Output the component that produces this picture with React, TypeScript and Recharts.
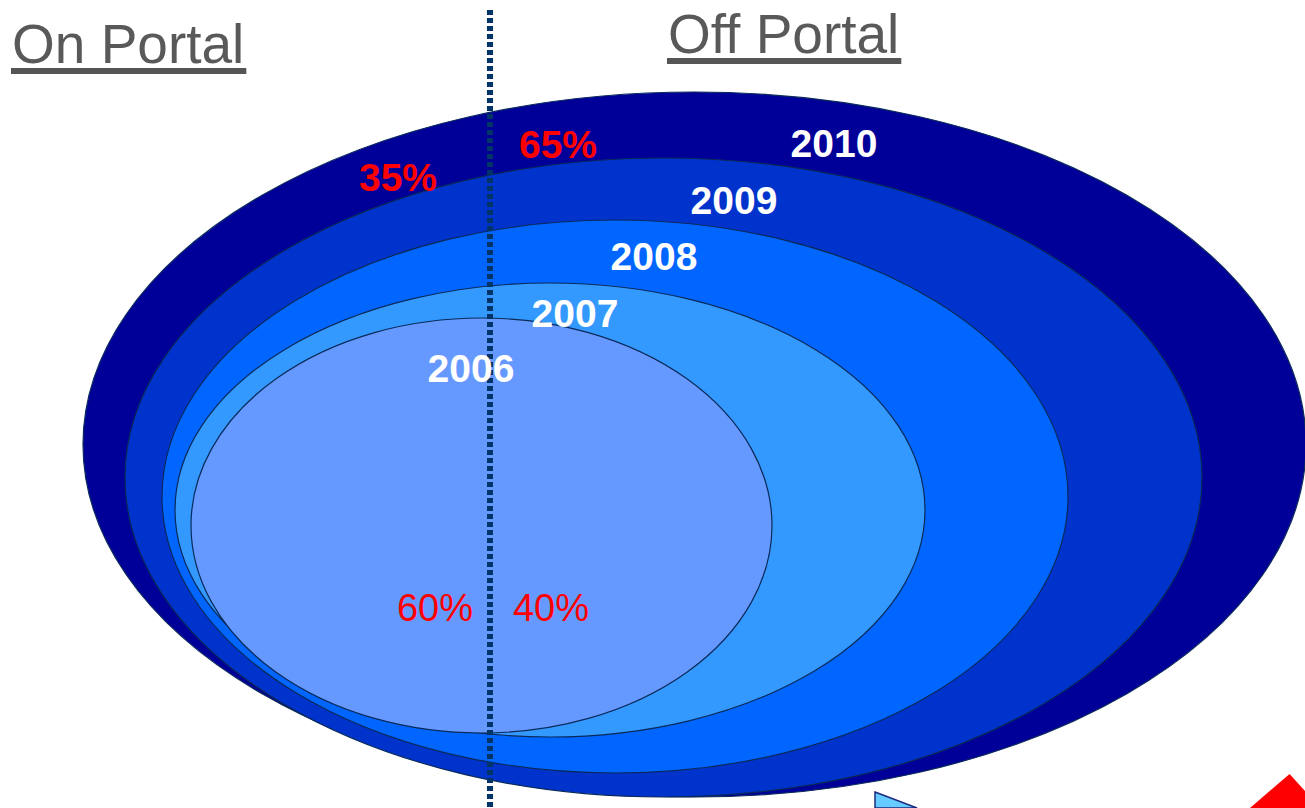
import React, { useLayoutEffect, useRef, useState } from "react";
import {
  ScatterChart,
  Scatter,
  XAxis,
  YAxis,
  ReferenceArea,
  ReferenceLine,
} from "recharts";

const W = 1305;
const H = 808;

// rings, outermost first
const YEARS = ["2010", "2009", "2008", "2007", "2006"];
const RING_LEFT = [83, 125, 162, 175, 191];
const RING_RIGHT = [1306, 1202, 1068, 925, 772];
const RING_TOP = [92, 158, 220, 283, 318];
const RING_BOTTOM = [797, 797, 773, 737, 733];
const RING_COLORS = ["#000099", "#0033CC", "#0066FF", "#3399FF", "#6699FF"];

const YEAR_X = [834, 734, 654, 575, 471];
const YEAR_Y = [157, 214, 270, 327, 382];

const OUTER_SHARE = ["35%", "65%"];
const OUTER_SHARE_X = [398, 558];
const OUTER_SHARE_Y = [191, 158];

const INNER_SHARE = ["60%", "40%"];
const INNER_SHARE_X = [435, 551];
const INNER_SHARE_Y = [621, 621];

const TITLES = ["On Portal", "Off Portal"];
const TITLE_X = [12, 668];
const TITLE_Y = [63, 53];

const DIVIDER_X = 490;

const FONT = "'Liberation Sans', Arial, sans-serif";

const yearData = YEARS.map((t, i) => ({ x: YEAR_X[i], y: YEAR_Y[i], t }));
const outerData = OUTER_SHARE.map((t, i) => ({ x: OUTER_SHARE_X[i], y: OUTER_SHARE_Y[i], t }));
const innerData = INNER_SHARE.map((t, i) => ({ x: INNER_SHARE_X[i], y: INNER_SHARE_Y[i], t }));
const titleData = TITLES.map((t, i) => ({ x: TITLE_X[i], y: TITLE_Y[i], t }));

function Title({ x, y, text }: { x: number; y: number; text: string }) {
  const ref = useRef<SVGTextElement>(null);
  const [w, setW] = useState(0);
  useLayoutEffect(() => {
    if (ref.current) setW(ref.current.getComputedTextLength());
  }, [text]);
  return (
    <g>
      <text ref={ref} x={x} y={y} fill="#595959" fontSize={55} fontFamily={FONT}>
        {text}
      </text>
      <rect x={x - 1} y={y + 5} width={w + 3} height={6} fill="#555555" />
    </g>
  );
}

const titleShape = (props: any) => <Title x={props.cx} y={props.cy} text={props.payload.t} />;

const textShape = (fill: string, size: number, weight: string | number) => (props: any) => {
  const { cx, cy, payload } = props;
  return (
    <text x={cx} y={cy} fill={fill} fontSize={size} fontWeight={weight} fontFamily={FONT} textAnchor="middle">
      {payload.t}
    </text>
  );
};

const ellipseShape = (fill: string) => (props: any) => {
  const { x, y, width, height } = props;
  return (
    <ellipse
      cx={x + width / 2}
      cy={y + height / 2}
      rx={width / 2}
      ry={height / 2}
      fill={fill}
      stroke="#0a2a5a"
      strokeWidth={1.2}
    />
  );
};

const triangleShape = (fill: string, stroke: string, kind: "blue" | "red") => (props: any) => {
  const { x, y, width, height } = props;
  const pts =
    kind === "blue"
      ? `${x},${y} ${x + width},${y + height} ${x},${y + height}`
      : `${x + width * 0.72},${y} ${x + width},${y + height * 0.5} ${x + width},${y + height} ${x},${y + height}`;
  return <polygon points={pts} fill={fill} stroke={stroke} strokeWidth={kind === "blue" ? 1.5 : 0} />;
};

export default function App() {
  return (
    <div style={{ position: "absolute", left: 0, top: 0, width: W, height: H, background: "#fff" }}>
      <ScatterChart width={W} height={H} margin={{ top: 0, right: 0, bottom: 0, left: 0 }}>
        <XAxis type="number" dataKey="x" domain={[0, W]} hide allowDataOverflow />
        <YAxis type="number" dataKey="y" domain={[0, H]} reversed hide allowDataOverflow />

        {YEARS.map((yr, i) => (
          <ReferenceArea
            key={yr}
            x1={RING_LEFT[i]}
            x2={RING_RIGHT[i]}
            y1={RING_TOP[i]}
            y2={RING_BOTTOM[i]}
            ifOverflow="visible"
            shape={ellipseShape(RING_COLORS[i])}
          />
        ))}

        <ReferenceArea
          x1={875}
          x2={917}
          y1={792}
          y2={808}
          ifOverflow="visible"
          shape={triangleShape("#66CCFF", "#1a2a80", "blue")}
        />
        <ReferenceArea
          x1={1250}
          x2={1305}
          y1={774}
          y2={808}
          ifOverflow="visible"
          shape={triangleShape("#FF0000", "none", "red")}
        />

        <ReferenceLine
          segment={[
            { x: DIVIDER_X, y: 10 },
            { x: DIVIDER_X, y: H },
          ]}
          stroke="#003366"
          strokeWidth={6}
          strokeDasharray="5 3"
          ifOverflow="visible"
        />

        <Scatter data={titleData} isAnimationActive={false} shape={titleShape} />
        <Scatter data={yearData} isAnimationActive={false} shape={textShape("#FFFFFF", 39, 700)} />
        <Scatter data={outerData} isAnimationActive={false} shape={textShape("#FF0000", 39, 700)} />
        <Scatter data={innerData} isAnimationActive={false} shape={textShape("#FF0000", 38, 400)} />
      </ScatterChart>
    </div>
  );
}
